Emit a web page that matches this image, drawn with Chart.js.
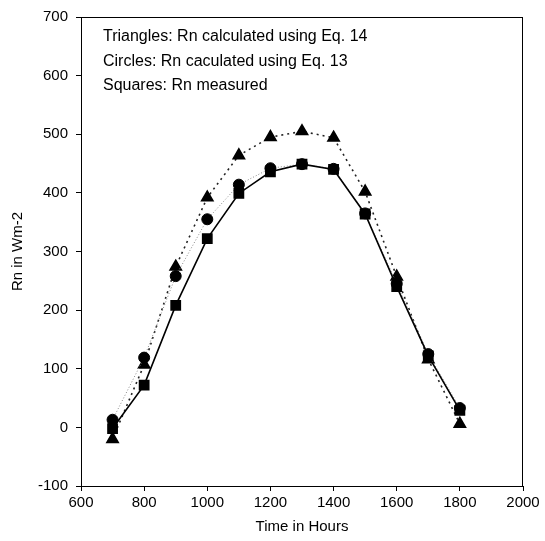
<!DOCTYPE html>
<html>
<head>
<meta charset="utf-8">
<script src="https://cdn.jsdelivr.net/npm/chart.js@4"></script>
<style>
  html, body { margin: 0; padding: 0; background: #fff; }
  #wrap { width: 545px; height: 541px; }
</style>
</head>
<body>
<div id="wrap"><canvas id="rnChart"></canvas></div>
<script>
var hours = [700, 800, 900, 1000, 1100, 1200, 1300, 1400, 1500, 1600, 1700, 1800];
var rnEq14 = [-20, 107, 274, 392, 464, 495, 505, 494, 402, 257, 116, 6];
var rnEq13 = [13, 119, 258, 355, 414, 442, 449, 441, 365, 245, 125, 33];
var rnMeasured = [-2, 72, 208, 322, 399, 436, 449, 440, 364, 240, 122, 29];
var notes = [
  "Triangles: Rn calculated using Eq. 14",
  "Circles: Rn caculated using Eq. 13",
  "Squares: Rn measured"
];

function pts(ys) {
  return hours.map(function (h, i) { return { x: h, y: ys[i] }; });
}

var fontName = "'Liberation Sans', Arial, sans-serif";

// box round the plot + the notes in the top left corner
var framePlugin = {
  id: "frame",
  afterDraw: function (chart) {
    var ctx = chart.ctx;
    var a = chart.chartArea;
    ctx.save();
    ctx.strokeStyle = "#000";
    ctx.lineWidth = 1;
    ctx.strokeRect(a.left + 0.5, a.top + 0.5, a.right - a.left - 1, a.bottom - a.top);
    ctx.fillStyle = "#000";
    ctx.font = "16px " + fontName;
    ctx.textBaseline = "middle";
    for (var i = 0; i < notes.length; i++) {
      ctx.fillText(notes[i], a.left + 22, a.top + 20 + i * 24.5);
    }
    ctx.restore();
  }
};

var ctx = document.getElementById("rnChart").getContext("2d");
var myChart = new Chart(ctx, {
  type: "line",
  data: {
    datasets: [
      {
        label: "Eq. 14",
        data: pts(rnEq14),
        borderColor: "#222",
        backgroundColor: "#000",
        pointBorderColor: "#000",
        borderWidth: 1.6,
        borderDash: [2, 4],
        pointStyle: "triangle",
        pointRadius: 6.5,
        order: 3
      },
      {
        label: "Eq. 13",
        data: pts(rnEq13),
        borderColor: "#888",
        backgroundColor: "#000",
        pointBorderColor: "#000",
        borderWidth: 1,
        borderDash: [1, 2],
        pointStyle: "circle",
        pointRadius: 5.5,
        order: 2
      },
      {
        label: "Measured",
        data: pts(rnMeasured),
        borderColor: "#000",
        backgroundColor: "#000",
        borderWidth: 1.6,
        pointStyle: "rect",
        pointRadius: 6.5,
        order: 1
      }
    ]
  },
  options: {
    responsive: true,
    maintainAspectRatio: false,
    animation: false,
    layout: { padding: { top: 13, right: 22, left: 0, bottom: 0 } },
    plugins: {
      legend: { display: false },
      tooltip: { enabled: false }
    },
    scales: {
      x: {
        type: "linear",
        min: 600,
        max: 2000,
        afterFit: function (scale) { scale.height = 55; },
        ticks: {
          stepSize: 200, color: "#000", font: { family: fontName, size: 15 }, padding: 3, maxRotation: 0,
          callback: function (v) { return String(v); }
        },
        grid: { drawOnChartArea: false, drawTicks: true, tickLength: 5, color: "#000" },
        border: { display: true, color: "#000", width: 1 },
        title: { display: true, text: "Time in Hours", color: "#000", font: { family: fontName, size: 15 }, padding: { top: 0, bottom: 5 } }
      },
      y: {
        min: -100,
        max: 700,
        afterFit: function (scale) { scale.width = 81; },
        ticks: {
          stepSize: 100, color: "#000", font: { family: fontName, size: 15 }, padding: 8,
          callback: function (v) { return String(v); }
        },
        grid: { drawOnChartArea: false, drawTicks: true, tickLength: 5, color: "#000" },
        border: { display: true, color: "#000", width: 1 },
        title: { display: true, text: "Rn in Wm-2", color: "#000", font: { family: fontName, size: 15 }, padding: { top: 9, bottom: 0 } }
      }
    }
  },
  plugins: [framePlugin]
});
</script>
</body>
</html>
